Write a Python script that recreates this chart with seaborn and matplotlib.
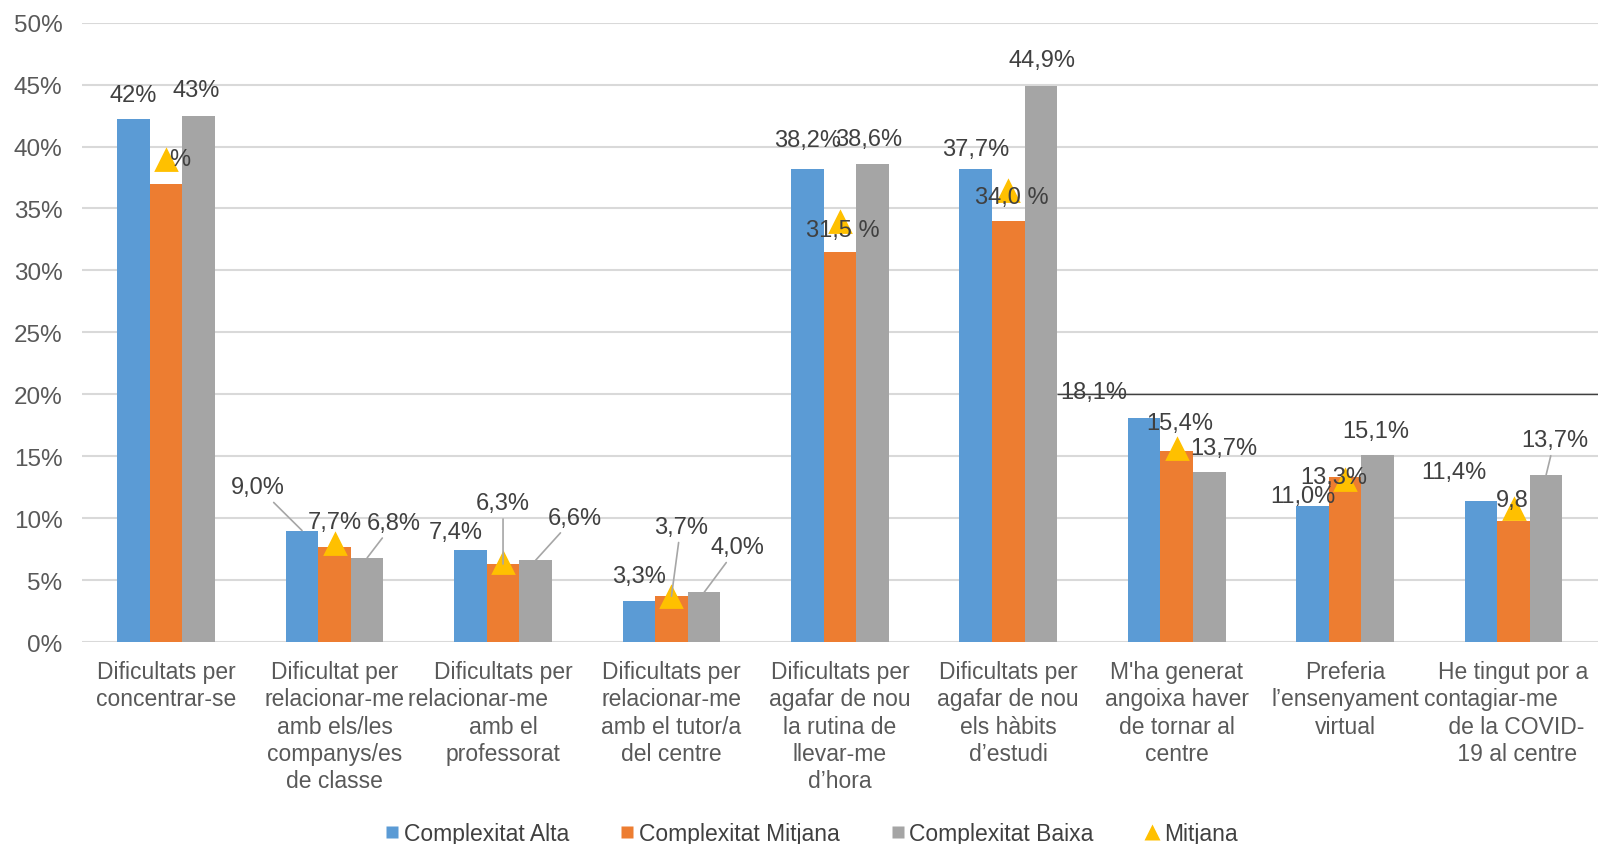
import numpy as np
import pandas as pd
import matplotlib
matplotlib.use("Agg")
import matplotlib.pyplot as plt
from matplotlib.lines import Line2D
import seaborn as sns

# ---------------- data ----------------
categories = [
    "Dificultats per\nconcentrar-se",
    "Dificultat per\nrelacionar-me\namb els/les\ncompanys/es\nde classe",
    "Dificultats per\nrelacionar-me        \namb el\nprofessorat",
    "Dificultats per\nrelacionar-me\namb el tutor/a\ndel centre",
    "Dificultats per\nagafar de nou\nla rutina de\nllevar-me\nd’hora",
    "Dificultats per\nagafar de nou\nels hàbits\nd’estudi",
    "M'ha generat\nangoixa haver\nde tornar al\ncentre",
    "Preferia\nl’ensenyament\nvirtual",
    "He tingut por a\ncontagiar-me       \n de la COVID-\n 19 al centre",
]
series_names = ["Complexitat Alta", "Complexitat Mitjana", "Complexitat Baixa"]
alta = [42.2, 9.0, 7.4, 3.3, 38.2, 38.2, 18.1, 11.0, 11.4]
mitjana_c = [37.0, 7.7, 6.3, 3.7, 31.5, 34.0, 15.4, 13.3, 9.8]
baixa = [42.5, 6.8, 6.6, 4.0, 38.6, 44.9, 13.7, 15.1, 13.5]
mitjana = [38.9, 7.9, 6.4, 3.6, 33.9, 36.4, 15.6, 13.1, 10.7]
mitjana_name = "Mitjana"

labels_alta = ["42%", "9,0%", "7,4%", "3,3%", "38,2%", "37,7%", "18,1%", "11,0%", "11,4%"]
labels_mit = ["%", "7,7%", "6,3%", "3,7%", "31,5 %", "34,0 %", "15,4%", "13,3%", "9,8"]
labels_baixa = ["43%", "6,8%", "6,6%", "4,0%", "38,6%", "44,9%", "13,7%", "15,1%", "13,7%"]
yticks = [0, 5, 10, 15, 20, 25, 30, 35, 40, 45, 50]

# ---------------- layout (label offsets: dx in category units, dy in %) ----------------
off_alta = [(0, 2.0), (-0.26, 3.5), (-0.086, 1.5), (0, 2.05), (0, 2.3), (0, 1.6),
            (-0.30, 2.1), (-0.06, 0.8), (-0.16, 2.36)]
off_mit = [(0.08, 2.0), (0, 2.0), (0, 4.9), (0.055, 5.6), (0.018, 1.8), (0.018, 1.9),
           (0.018, 2.3), (-0.07, 0.0), (-0.01, 1.7)]
off_baixa = [(-0.013, 2.1), (0.16, 2.84), (0.23, 3.45), (0.2, 3.66), (-0.02, 2.0),
             (0.007, 2.05), (0.087, 1.95), (-0.013, 1.97), (0.05, 2.8)]
lead_alta = [1]
lead_mit = [2, 3]
lead_baixa = [1, 2, 3, 8]

colors = ["#5B9BD5", "#ED7D31", "#A5A5A5"]
tri_color = "#FFC000"
text_color = "#404040"
tick_color = "#595959"
grid_color = "#D9D9D9"
FS = 17

sns.set_theme(style="white")
plt.rcParams["font.family"] = ["Liberation Sans", "DejaVu Sans"]

fig = plt.figure(figsize=(16.01, 8.45), dpi=100)
ax = fig.add_axes([0.0512, 0.239, 0.9468, 0.733])

df = pd.DataFrame({
    "Categoria": categories * 3,
    "Sèrie": np.repeat(series_names, len(categories)),
    "Valor": alta + mitjana_c + baixa,
})

sns.barplot(data=df, x="Categoria", y="Valor", hue="Sèrie", order=categories,
            hue_order=series_names, palette=colors, width=0.58, saturation=1,
            errorbar=None, legend=False, ax=ax, zorder=3, linewidth=0)

df_m = pd.DataFrame({"Categoria": categories, "Valor": mitjana})
sns.pointplot(data=df_m, x="Categoria", y="Valor", order=categories, color=tri_color,
              markers="^", linestyles="none", markersize=15, ax=ax, zorder=6)

# axes styling
ax.set_ylim(0, 50)
ax.set_xlim(-0.5, len(categories) - 0.5)
ax.set_yticks(yticks)
ax.set_yticklabels([f"{v}%" for v in yticks])
ax.yaxis.grid(True, color=grid_color, linewidth=1.5, zorder=0)
ax.set_axisbelow(True)
for s in ax.spines.values():
    s.set_visible(False)
ax.tick_params(axis="both", length=0, labelcolor=tick_color)
ax.tick_params(axis="y", pad=14, labelsize=17.5)
ax.tick_params(axis="x", pad=13, labelsize=16.5)
ax.set_xlabel("")
ax.set_ylabel("")
for t in ax.get_xticklabels():
    t.set_linespacing(1.24)
    t.set_verticalalignment("top")

# stray dark line at 20%
ax.hlines(20, 5.29, len(categories) - 0.5, color="#404040", linewidth=1.0, zorder=2)

# data labels
bw = 0.58 / 3
series = [(alta, labels_alta, off_alta, lead_alta, -bw),
          (mitjana_c, labels_mit, off_mit, lead_mit, 0.0),
          (baixa, labels_baixa, off_baixa, lead_baixa, bw)]
for vals, labs, offs, leads, shift in series:
    for i, (v, lab, (dx, dy)) in enumerate(zip(vals, labs, offs)):
        xb = i + shift
        if i in leads:
            ax.annotate(lab, xy=(xb, v), xytext=(xb + dx, v + dy), ha="center", va="center",
                        fontsize=FS, color=text_color, zorder=7,
                        arrowprops=dict(arrowstyle="-", color="#A6A6A6", lw=1.2,
                                        shrinkA=1, shrinkB=0))
        else:
            ax.text(xb + dx, v + dy, lab, ha="center", va="center", fontsize=FS,
                    color=text_color, zorder=7)

# legend
handles = [Line2D([0], [0], marker="s", linestyle="none", markersize=9,
                  markerfacecolor=c, markeredgecolor="none") for c in colors]
handles.append(Line2D([0], [0], marker="^", linestyle="none", markersize=11,
                      markerfacecolor=tri_color, markeredgecolor="none"))
fig.legend(handles, series_names + [mitjana_name], loc="lower center", ncol=4,
           frameon=False, fontsize=16.5, handletextpad=0.1, columnspacing=2.15,
           handlelength=0.8, bbox_to_anchor=(0.506, -0.026), labelcolor=text_color)

fig.savefig("out.png", dpi=100)
